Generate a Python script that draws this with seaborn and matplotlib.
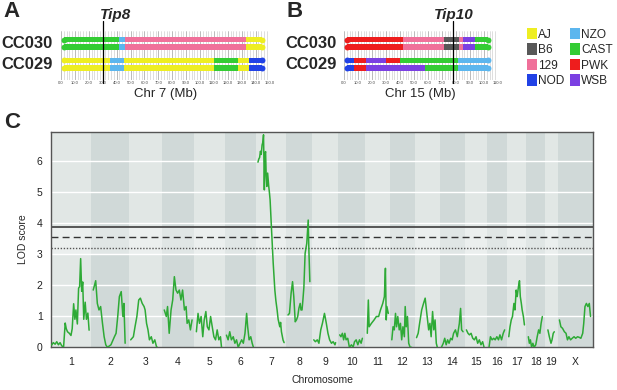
import numpy as np
import pandas as pd
import seaborn as sns
import matplotlib.pyplot as plt
from matplotlib.patches import Patch

# founder strains / colours
founders = ['AJ', 'B6', '129', 'NOD', 'NZO', 'CAST', 'PWK', 'WSB']
founder_colors = ['#EEEE22', '#585858', '#F0709A', '#2142E6',
                  '#5CB6EE', '#33CC33', '#EE1D1D', '#7B40E2']
col = dict(zip(founders, founder_colors))

strains = ['CC030', 'CC029']

# panel A: chr 7 haplotype blocks (Mb breakpoints), two strands per strain
chr7_ticks = [0, 10, 20, 30, 40, 50, 60, 70, 80, 90, 100, 110, 120, 130, 140, 150]
chr7_cc030_breaks = [0, 42, 46, 133, 147]
chr7_cc030_hap = ['CAST', 'NZO', '129', 'AJ']
chr7_cc029_breaks = [0, 35, 45.5, 110, 127, 135, 147]
chr7_cc029_hap = ['AJ', 'NZO', 'AJ', 'CAST', 'AJ', 'NOD']
tip8_pos = 30.5

# panel B: chr 15
chr15_ticks = [0, 10, 20, 30, 40, 50, 60, 70, 80, 90, 100, 110]
chr15_cc030_breaks = [0, 42.4, 71.6, 82, 85.2, 93.6, 105]
chr15_cc030_hap = ['PWK', '129', 'B6', '129', 'WSB', 'CAST']
chr15_cc029a_breaks = [0, 7.4, 15.7, 30, 40, 81.2, 105]
chr15_cc029a_hap = ['NOD', 'PWK', 'WSB', 'PWK', 'CAST', 'NZO']
chr15_cc029b_breaks = [0, 7.4, 15.7, 57.9, 81.2, 105]
chr15_cc029b_hap = ['NOD', 'PWK', 'WSB', 'CAST', 'NZO']
tip10_pos = 77.6

# panel C: genome scan
chrom_names = ['1', '2', '3', '4', '5', '6', '7', '8', '9', '10',
               '11', '12', '13', '14', '15', '16', '17', '18', '19', 'X']
chrom_len = [195, 182, 160, 156, 152, 150, 145, 129, 125, 131,
             122, 120, 120, 125, 104, 98, 95, 91, 61, 171]
marker_pos = [
    [3, 11, 20, 28, 36, 44, 52, 61, 69, 74, 80, 89, 97, 103, 110, 116, 121, 128, 134, 139, 144, 149, 154, 159, 166, 172, 179, 185],
    [10, 22, 30, 38, 46, 55, 63, 71, 79, 96, 113, 121, 129, 137, 146, 154, 159, 165],
    [10, 23, 31, 40, 49, 57, 66, 75, 80, 87, 94, 101, 110, 118, 127, 136, 139],
    [13, 23, 29, 37, 46, 54, 62, 70, 78, 86, 94, 102, 111, 119, 124, 132, 140, 148],
    [13, 21, 28, 36, 44, 51, 59, 66, 74, 82, 90, 98, 106, 114, 122, 130, 135],
    [7, 15, 23, 31, 40, 48, 56, 64, 73, 81, 89, 97, 105, 110, 117, 125, 132, 138],
    [10, 14, 18, 22, 26, 30, 34, 37, 39, 41, 44, 47, 50, 53, 57, 62, 66, 69, 76, 84, 92, 97, 103, 108, 116, 120, 124, 132, 137],
    [11, 18, 26, 33, 39, 46, 52, 58, 64, 70, 74, 79, 83, 88, 94, 102, 109, 112, 117],
    [7, 15, 24, 32, 41, 49, 59, 68, 76, 84, 93, 101, 110, 113],
    [8, 14, 21, 27, 33, 39, 47, 55, 65, 73, 80, 88, 96, 104, 112, 118],
    [11, 16, 20, 31, 44, 55, 66, 75, 86, 94, 99, 103, 106, 113],
    [8, 14, 20, 26, 31, 37, 44, 50, 56, 62, 69, 73, 78, 84, 90, 97, 104],
    [8, 16, 23, 33, 42, 50, 58, 67, 73, 79, 86, 92, 98, 104, 109],
    [9, 18, 25, 32, 39, 46, 54, 61, 68, 77, 86, 96, 102, 107, 114],
    [5, 13, 20, 28, 36, 44, 52, 60, 68, 76, 84, 91],
    [11, 18, 26, 34, 41, 49, 57, 64, 72, 80, 87],
    [9, 15, 21, 27, 34, 39, 45, 50, 56, 61, 65, 70, 74, 80, 85],
    [9, 14, 19, 25, 31, 37, 45, 52, 59, 65, 71, 77],
    [13, 20, 28, 33, 39, 44],
    [8, 15, 23, 32, 40, 47, 54, 62, 70, 79, 87, 96, 104, 112, 121, 126, 132, 139, 146, 153, 159],
]
lod_vals = [
    [0.07, 0.15, 0.1, 0.18, 0.08, 0.15, 0.05, 0.0, 0.78, 0.6, 0.5, 0.45, 0.38, 0.6, 1.4, 0.9, 1.2, 0.75, 1.9, 1.95, 2.85, 1.8, 2.1, 0.9, 1.45, 0.9, 1.1, 0.55],
    [1.84, 2.14, 1.41, 1.2, 1.31, 0.77, 0.34, 0.08, 0.0, 0.08, 0.34, 0.45, 0.99, 1.63, 1.79, 0.99, 1.41, 0.13],
    [0.24, 0.34, 0.66, 0.99, 1.52, 1.58, 1.41, 1.31, 1.2, 0.77, 0.56, 0.24, 0.34, 0.13, 0.24, 0.0, 0.0],
    [1.2, 0.99, 1.31, 0.45, 1.2, 1.52, 2.27, 1.84, 1.74, 1.84, 1.52, 1.84, 1.2, 1.31, 0.77, 0.88, 0.56, 0.88],
    [0.5, 1.09, 0.77, 0.99, 0.34, 0.88, 1.15, 0.66, 0.56, 0.99, 0.66, 0.34, 0.24, 0.56, 0.24, 0.34, 0.0],
    [0.39, 0.24, 0.5, 0.24, 0.34, 0.13, 0.24, 0.0, 0.13, 0.24, 0.13, 0.45, 1.09, 0.66, 0.24, 0.34, 0.13, 0.0],
    [5.95, 6.05, 6.1, 6.3, 6.2, 6.5, 6.6, 6.83, 6.0, 5.06, 6.2, 6.29, 5.5, 5.17, 5.6, 5.2, 4.95, 4.74, 3.77, 2.71, 1.84, 1.5, 1.2, 0.9, 0.66, 0.8, 0.5, 0.23, 0.15],
    [1.04, 1.09, 1.74, 2.11, 1.63, 0.82, 0.88, 0.99, 1.26, 1.41, 1.2, 1.2, 1.5, 1.93, 3.02, 3.34, 4.09, 3.2, 2.11],
    [0.24, 0.18, 0.24, 0.13, 0.56, 0.77, 1.09, 0.77, 0.45, 0.24, 0.13, 0.18, 0.08, 0.15],
    [0.4, 0.34, 0.45, 0.24, 0.45, 0.24, 0.29, 0.0, 0.08, 0.0, 0.18, 0.24, 0.08, 0.24, 0.13, 0.29],
    [0.45, 1.52, 0.66, 0.77, 0.88, 0.99, 0.99, 1.2, 1.41, 1.63, 2.54, 0.88, 1.31, 1.09],
    [0.24, 0.66, 0.56, 1.09, 0.66, 0.99, 0.56, 0.77, 0.24, 0.66, 0.34, 1.31, 0.66, 0.99, 0.13, 0.0, 0.0],
    [0.31, 0.45, 0.77, 1.2, 1.41, 1.58, 1.09, 0.56, 0.77, 0.34, 1.15, 0.56, 0.88, 0.13, 0.0],
    [0.0, 0.13, 0.29, 0.08, 0.24, 0.13, 0.29, 0.24, 0.45, 0.56, 0.34, 0.77, 1.25, 0.56, 0.5],
    [0.56, 0.45, 0.4, 0.45, 0.29, 0.24, 0.34, 0.13, 0.24, 0.08, 0.18, 0.0],
    [0.0, 0.34, 0.24, 0.29, 0.24, 0.34, 0.24, 0.4, 0.24, 0.45, 0.56],
    [0.34, 0.66, 0.88, 0.99, 1.41, 1.2, 1.84, 1.63, 1.95, 2.14, 1.63, 1.41, 1.2, 0.99, 0.72],
    [0.34, 0.13, 0.24, 0.0, 0.13, 0.0, 0.08, 0.34, 0.56, 0.45, 0.77, 0.99],
    [0.56, 0.34, 0.13, 0.24, 0.45, 0.5],
    [0.88, 0.66, 0.61, 0.5, 0.45, 0.24, 0.34, 0.24, 0.29, 0.34, 0.29, 0.34, 0.32, 0.29, 0.45, 0.77, 1.31, 1.41, 1.31, 1.41, 0.99],
]
thresholds = [3.87, 3.54, 3.2]  # solid, dashed, dotted

sns.set_theme(style='white')
plt.rcParams['font.family'] = ['Liberation Sans', 'DejaVu Sans']

W, H = 617, 390
fig = plt.figure(figsize=(W / 100, H / 100), dpi=100)


def fx(px):
    return px / W


def fy(py):
    return 1 - py / H


strand_y = [0, 1, 2.95, 3.95]
bar_h = 0.83
cap_ms = 4.25


def draw_strand(ax, y, breaks, haps, r):
    for i, h in enumerate(haps):
        x0, x1 = breaks[i], breaks[i + 1]
        if i == 0:
            x0 += r
        if i == len(haps) - 1:
            x1 -= r
        ax.barh(y, x1 - x0, left=x0, height=bar_h, color=col[h], lw=0, zorder=3)
    ax.plot([breaks[0] + r], [y], 'o', ms=cap_ms, mew=0, color=col[haps[0]], zorder=3, clip_on=False)
    ax.plot([breaks[-1] - r], [y], 'o', ms=cap_ms, mew=0, color=col[haps[-1]], zorder=3, clip_on=False)


def hap_axes(left_px, right_px, xmax, ticks):
    ax = fig.add_axes([fx(left_px), fy(80), fx(right_px - left_px), (80 - 31) / H])
    ax.set_xlim(0, xmax)
    ax.set_ylim(5.7, -1.2)
    ax.set_xticks(ticks)
    ax.set_xticklabels([f'{t:.1f}' for t in ticks], fontsize=3, color='#444')
    ax.set_xticks(np.arange(0, xmax + 0.1, 2), minor=True)
    ax.tick_params(axis='x', length=0, pad=1, which='both')
    ax.set_yticks([])
    ax.grid(axis='x', which='major', color='#a0a0a0', lw=0.5)
    ax.grid(axis='x', which='minor', color='#c4c4c4', lw=0.4)
    for s in ax.spines.values():
        s.set_visible(False)
    return ax


# ---- panel A
axA = hap_axes(61, 269.5, 150, chr7_ticks)
rA = 3.0 / 1.39
draw_strand(axA, strand_y[0], chr7_cc030_breaks, chr7_cc030_hap, rA)
draw_strand(axA, strand_y[1], chr7_cc030_breaks, chr7_cc030_hap, rA)
draw_strand(axA, strand_y[2], chr7_cc029_breaks, chr7_cc029_hap, rA)
draw_strand(axA, strand_y[3], chr7_cc029_breaks, chr7_cc029_hap, rA)
axA.axvline(tip8_pos, ymin=-0.06, ymax=1.2, color='black', lw=0.9, zorder=5, clip_on=False)

# ---- panel B
axB = hap_axes(344, 498, 110, chr15_ticks)
rB = 3.0 / 1.4
draw_strand(axB, strand_y[0], chr15_cc030_breaks, chr15_cc030_hap, rB)
draw_strand(axB, strand_y[1], chr15_cc030_breaks, chr15_cc030_hap, rB)
draw_strand(axB, strand_y[2], chr15_cc029a_breaks, chr15_cc029a_hap, rB)
draw_strand(axB, strand_y[3], chr15_cc029b_breaks, chr15_cc029b_hap, rB)
axB.axvline(tip10_pos, ymin=-0.06, ymax=1.2, color='black', lw=0.9, zorder=5, clip_on=False)

# texts for A/B
fig.text(fx(3), fy(1), 'A', fontsize=16, weight='bold', va='top', ha='left')
fig.text(fx(287), fy(1), 'B', fontsize=16, weight='bold', va='top', ha='left')
fig.text(fx(116), fy(19), 'Tip8', fontsize=11, weight='bold', style='italic', ha='center', va='baseline')
fig.text(fx(454), fy(19), 'Tip10', fontsize=11, weight='bold', style='italic', ha='center', va='baseline')
for xr in (53, 337):
    fig.text(fx(xr), fy(43.3), strains[0], fontsize=12, weight='bold', ha='right', va='center')
    fig.text(fx(xr), fy(64.5), strains[1], fontsize=12, weight='bold', ha='right', va='center')
fig.text(fx(166), fy(94), 'Chr 7 (Mb)', fontsize=9.5, ha='center', va='center')
fig.text(fx(420), fy(94), 'Chr 15 (Mb)', fontsize=9.5, ha='center', va='center')

handles = [Patch(facecolor=c, edgecolor='none') for c in founder_colors]
fig.legend(handles, founders, ncol=2, loc='upper left', bbox_to_anchor=(fx(527), fy(28)),
           frameon=False, fontsize=8.6, handlelength=0.8, handleheight=1.1,
           handletextpad=0.15, columnspacing=0.45, labelspacing=0.22,
           borderaxespad=0, borderpad=0)

# ---- panel C
offsets = np.concatenate([[0], np.cumsum(chrom_len)[:-1]])
total = sum(chrom_len)
rows = []
for name, off, pos, lod in zip(chrom_names, offsets, marker_pos, lod_vals):
    for p, v in zip(pos, lod):
        rows.append((name, off + p, v))
df = pd.DataFrame(rows, columns=['chrom', 'gpos', 'lod'])

axC = fig.add_axes([fx(51), fy(347.3), fx(593 - 51), (347.3 - 131.7) / H])
for i, (off, ln) in enumerate(zip(offsets, chrom_len)):
    axC.axvspan(off, off + ln, color='#E1E7E5' if i % 2 == 0 else '#D0D9D8', lw=0, zorder=0)
axC.axhspan(3.0, thresholds[0], color='white', alpha=0.35, lw=0, zorder=0.2)
for yv in range(1, 7):
    axC.axhline(yv, color='white', lw=1.0, zorder=0.5)
axC.axhline(thresholds[0], color='#4a4a4a', lw=1.3, zorder=1)
axC.axhline(thresholds[1], color='#333333', lw=1.0, ls=(0, (5, 3)), zorder=1)
axC.axhline(thresholds[2], color='#555555', lw=1.0, ls=(0, (1, 1.2)), zorder=1)

sns.lineplot(data=df, x='gpos', y='lod', units='chrom', estimator=None, sort=False,
             color='#2EAA36', linewidth=1.1, ax=axC, zorder=3)

axC.set_xlim(0, total)
axC.set_ylim(0, 6.93)
axC.set_xticks(offsets + np.array(chrom_len) / 2)
axC.set_xticklabels(chrom_names)
axC.set_yticks(range(0, 7))
axC.tick_params(axis='both', length=0, labelsize=7.5, colors='#222222')
axC.tick_params(axis='x', pad=7)
axC.tick_params(axis='y', pad=6)
axC.set_xlabel('Chromosome', fontsize=7.5, labelpad=6)
axC.set_ylabel('LOD score', fontsize=7.5, labelpad=6)
for s in axC.spines.values():
    s.set_color('#555555')
    s.set_linewidth(1.0)
fig.text(fx(4), fy(112), 'C', fontsize=16, weight='bold', va='top', ha='left')

fig.savefig('out.png', dpi=100)
